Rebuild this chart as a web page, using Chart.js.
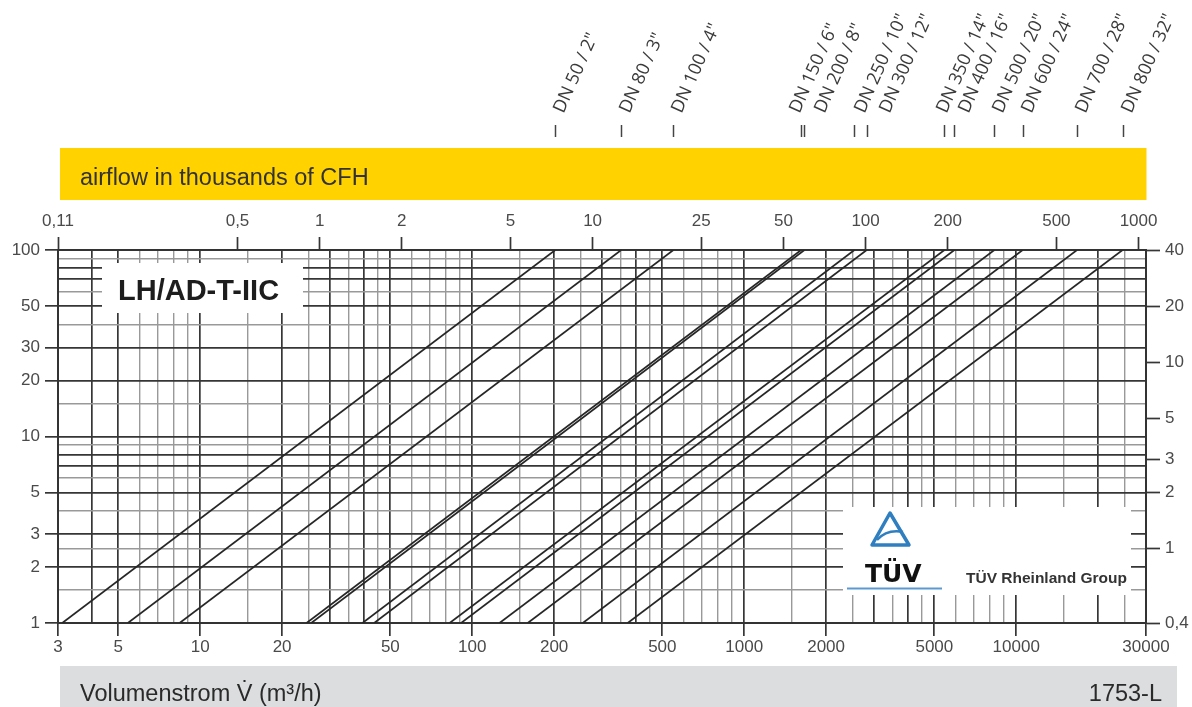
<!DOCTYPE html>
<html><head><meta charset="utf-8">
<script src="https://cdn.jsdelivr.net/npm/chart.js@4.4.1/dist/chart.umd.min.js"></script>
<style>html,body{margin:0;padding:0;background:#fff;}canvas{display:block;}</style>
</head><body>
<canvas id="c" width="1192" height="707"></canvas>
<script>
// ---- data ----
const dnLabels = ['DN 50 / 2"','DN 80 / 3"','DN 100 / 4"','DN 150 / 6"','DN 200 / 8"','DN 250 / 10"','DN 300 / 12"','DN 350 / 14"','DN 400 / 16"','DN 500 / 20"','DN 600 / 24"','DN 700 / 28"','DN 800 / 32"'];
const flowAtLow  = [3.11, 5.42, 8.40, 24.6, 25.6, 39.5, 43.6, 82.6, 91.0, 126, 160, 255, 373];        // m³/h at Δp = 1
const flowAtHigh = [202, 353, 549, 1619, 1665, 2541, 2820, 5445, 5925, 8310, 10560, 16730, 24600]; // m³/h at Δp = 100
const dpRange = [1, 100];

const xTickLabels = [3,5,10,20,50,100,200,500,1000,2000,5000,10000,30000];
const xGridMajor = [3,4,5,10,20,30,40,50,100,200,300,400,500,1000,2000,3000,4000,5000,10000,20000,30000];
const xGridMinor = [6,7,8,9,15,25,35,45,60,70,80,90,150,250,350,450,600,700,800,900,1500,2500,3500,4500,6000,7000,8000,9000,15000,25000];
const yTickLabels = [1,2,3,5,10,20,30,50,100];
const yGridMajor = [1,2,3,5,7,8,10,20,30,50,70,80,100];
const yGridMinor = [1.5,2.5,4,6,9,15,40,60,90];
const rightTicks = [0.4,1,2,3,5,10,20,40];
const topTicks = [0.11,0.5,1,2,5,10,25,50,100,200,500,1000];

const FONT = "'Liberation Sans', Arial, sans-serif";
const tickFont = {family: FONT, size: 17};
const tickCol = '#4a4a4a';
const dark = '#363636', light = '#999999';
const comma = v => String(v).replace('.', ',');
const sortNum = a => a.slice().sort((p,q)=>p-q);
// label nudges so that neighbouring DN captions do not collide (as in the original)
const dnNudge = [0,0,0,-10,12,2,14,-6,6,0,0,0,0];

const datasets = flowAtLow.map((x0, i) => ({
  label: dnLabels[i],
  data: [{x: x0, y: dpRange[0]}, {x: flowAtHigh[i], y: dpRange[1]}],
  borderColor: '#262626', borderWidth: 1.7, pointRadius: 0, fill: false, tension: 0
}));

const decor = {
  id: 'decor',
  beforeDraw(chart) {
    const ctx = chart.ctx;
    ctx.save();
    ctx.fillStyle = '#fff'; ctx.fillRect(0, 0, 1192, 707);
    ctx.fillStyle = '#FFD200'; ctx.fillRect(60, 148, 1086.5, 52);
    ctx.fillStyle = '#333'; ctx.font = "23.5px " + FONT; ctx.textBaseline = 'alphabetic'; ctx.textAlign = 'left';
    ctx.fillText('airflow in thousands of CFH', 80, 185);
    ctx.fillStyle = '#DCDDDF'; ctx.fillRect(60, 666, 1117, 41);
    ctx.fillStyle = '#2a2a2a';
    ctx.fillText('Volumenstrom V\u0307 (m\u00b3/h)', 80, 701);
    ctx.textAlign = 'right';
    ctx.fillText('1753-L', 1162, 701);
    ctx.restore();
  },
  afterDatasetsDraw(chart) {
    const ctx = chart.ctx;
    ctx.save();
    // LH box
    ctx.fillStyle = '#fff'; ctx.fillRect(102, 263, 201, 50);
    ctx.fillStyle = '#1d1d1d'; ctx.font = "bold 29px " + FONT; ctx.textAlign = 'left'; ctx.textBaseline = 'alphabetic';
    ctx.fillText('LH/AD-T-IIC', 118, 300);
    // TÜV box
    ctx.fillStyle = '#fff'; ctx.fillRect(843, 507, 288, 88);
    ctx.strokeStyle = '#2f7fc0'; ctx.lineWidth = 3.5; ctx.lineJoin = 'round';
    ctx.beginPath(); ctx.moveTo(890, 513); ctx.lineTo(909, 545); ctx.lineTo(872, 545); ctx.closePath(); ctx.stroke();
    ctx.lineWidth = 2.5;
    ctx.beginPath(); ctx.moveTo(877, 540); ctx.quadraticCurveTo(887, 529, 903, 532); ctx.stroke();
    ctx.fillStyle = '#111'; ctx.font = "bold 25px 'DejaVu Sans', sans-serif";
    ctx.fillText('T\u00dcV', 865, 582);
    ctx.strokeStyle = '#5a9ad0'; ctx.lineWidth = 2;
    ctx.beginPath(); ctx.moveTo(847, 588.5); ctx.lineTo(942, 588.5); ctx.stroke();
    ctx.fillStyle = '#333'; ctx.font = "bold 15.5px " + FONT;
    ctx.fillText('T\u00dcV Rheinland Group', 966, 583);
    ctx.restore();
  },
  afterDraw(chart) {
    const ctx = chart.ctx, xs = chart.scales.x;
    ctx.save();
    ctx.strokeStyle = '#444'; ctx.lineWidth = 1.5;
    ctx.fillStyle = '#3a3a3a'; ctx.font = "18px 'Open Sans', sans-serif";
    ctx.textAlign = 'left'; ctx.textBaseline = 'alphabetic';
    flowAtHigh.forEach((v, i) => {
      const px = Math.round(xs.getPixelForValue(v)) + 0.5;
      ctx.beginPath(); ctx.moveTo(px, 125); ctx.lineTo(px, 137); ctx.stroke();
      ctx.save();
      ctx.translate(px + 8 + dnNudge[i], 114);
      ctx.rotate(-66 * Math.PI / 180);
      ctx.fillText(dnLabels[i], 0, 0);
      ctx.restore();
    });
    ctx.restore();
  }
};

const gridOpts = (majors, labeled) => ({
  color: c => (c.tick && majors.includes(c.tick.value)) ? dark : light,
  lineWidth: c => (c.tick && majors.includes(c.tick.value)) ? 1.7 : 1.4,
  tickLength: 13,
  tickWidth: 1.7,
  tickColor: c => (c.tick && labeled.includes(c.tick.value)) ? dark : 'rgba(0,0,0,0)'
});

new Chart(document.getElementById('c'), {
  type: 'line',
  data: { datasets },
  plugins: [decor],
  options: {
    responsive: false, animation: false, devicePixelRatio: 1,
    layout: { padding: 0 },
    plugins: { legend: { display: false }, tooltip: { enabled: false } },
    scales: {
      x: {
        type: 'logarithmic', position: 'bottom', min: 3, max: 30000,
        afterBuildTicks: s => { s.ticks = sortNum(xGridMajor.concat(xGridMinor)).map(v => ({value: v})); },
        afterFit: s => { s.height = 84; },
        ticks: { autoSkip: false, maxRotation: 0, minRotation: 0, padding: 1, font: tickFont, color: tickCol,
                 callback: v => xTickLabels.includes(v) ? String(v) : '' },
        grid: gridOpts(xGridMajor, xTickLabels),
        border: { color: '#333', width: 2 }
      },
      x2: {
        type: 'logarithmic', position: 'top', min: 0.11, max: 1065,
        afterBuildTicks: s => { s.ticks = topTicks.map(v => ({value: v})); },
        afterFit: s => { s.height = 250; },
        ticks: { autoSkip: false, maxRotation: 0, minRotation: 0, padding: 5, font: tickFont, color: tickCol,
                 callback: v => comma(v) },
        grid: { drawOnChartArea: false, tickLength: 13, tickWidth: 1.7, tickColor: dark },
        border: { color: '#333', width: 2 }
      },
      y: {
        type: 'logarithmic', position: 'left', min: 1, max: 100,
        afterBuildTicks: s => { s.ticks = sortNum(yGridMajor.concat(yGridMinor)).map(v => ({value: v})); },
        afterFit: s => { s.width = 58; },
        ticks: { autoSkip: false, padding: 5, font: tickFont, color: tickCol,
                 callback: v => yTickLabels.includes(v) ? String(v) : '' },
        grid: gridOpts(yGridMajor, yTickLabels),
        border: { color: '#333', width: 2 }
      },
      y2: {
        type: 'logarithmic', position: 'right', min: 0.4, max: 40,
        afterBuildTicks: s => { s.ticks = rightTicks.map(v => ({value: v})); },
        afterFit: s => { s.width = 46; },
        ticks: { autoSkip: false, padding: 5, font: tickFont, color: tickCol, callback: v => comma(v) },
        grid: { drawOnChartArea: false, tickLength: 14, tickWidth: 1.7, tickColor: dark },
        border: { color: '#333', width: 2 }
      }
    }
  }
});
</script>
</body></html>
